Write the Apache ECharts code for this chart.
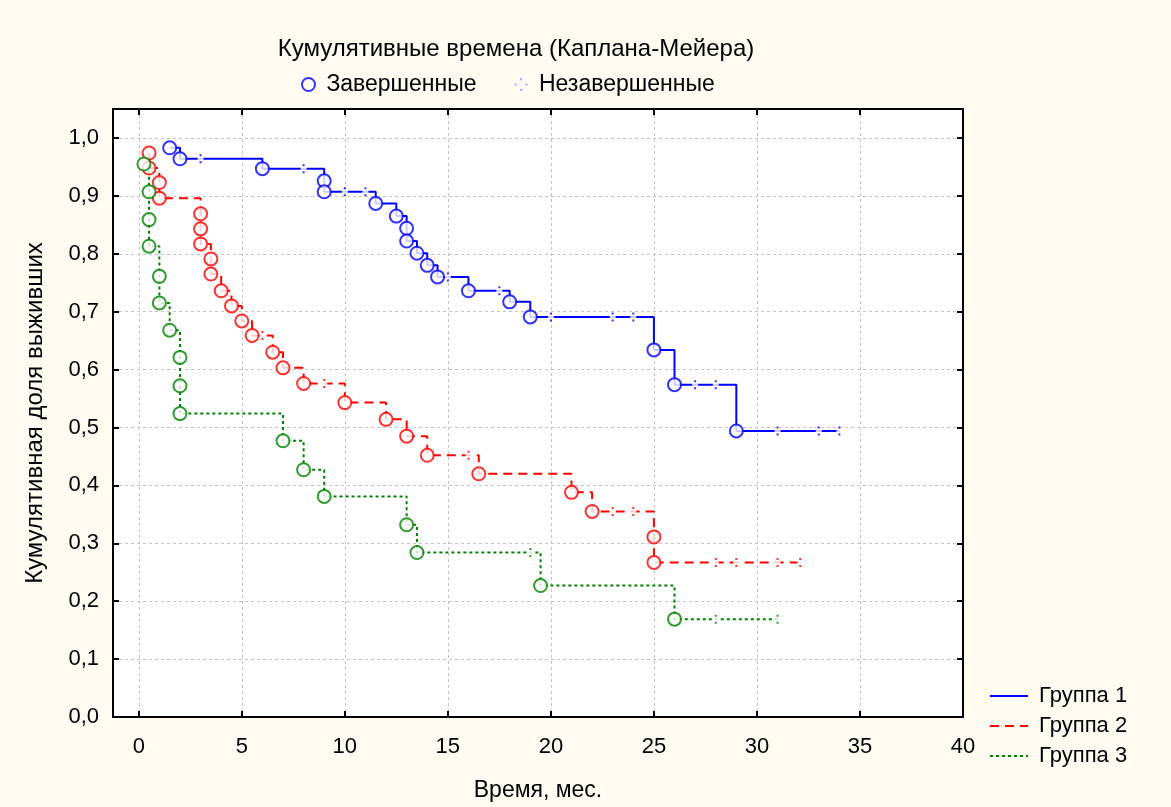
<!DOCTYPE html>
<html><head><meta charset="utf-8">
<script src="https://cdn.jsdelivr.net/npm/echarts@6/dist/echarts.min.js"></script>
<style>html,body{margin:0;padding:0;background:#fffbf0}#c{width:1171px;height:807px}</style>
</head><body><div id="c"></div>
<script>
const xTicks = [0, 5, 10, 15, 20, 25, 30, 35, 40];
const yTicks = [0, 0.1, 0.2, 0.3, 0.4, 0.5, 0.6, 0.7, 0.8, 0.9, 1.0];

const groupNames = ['Группа 1', 'Группа 2', 'Группа 3'];

// [time, cumulative survival] — complete (event) observations
const g1Events = [[1.5,0.983],[2.0,0.964],[6.0,0.947],[9.0,0.926],[9.0,0.907],[11.5,0.887],[12.5,0.865],[13.0,0.844],[13.0,0.822],[13.5,0.801],[14.0,0.780],[14.5,0.760],[16.0,0.736],[18.0,0.717],[19.0,0.691],[25.0,0.634],[26.0,0.574],[29.0,0.494]];
const g2Events = [[0.5,0.974],[0.5,0.948],[1.0,0.923],[1.0,0.896],[3.0,0.869],[3.0,0.843],[3.0,0.817],[3.5,0.791],[3.5,0.765],[4.0,0.736],[4.5,0.710],[5.0,0.684],[5.5,0.659],[6.5,0.630],[7.0,0.603],[8.0,0.576],[10.0,0.543],[12.0,0.514],[13.0,0.485],[14.0,0.452],[16.5,0.420],[21.0,0.388],[22.0,0.355],[25.0,0.311],[25.0,0.267]];
const g3Events = [[0.25,0.955],[0.5,0.907],[0.5,0.859],[0.5,0.813],[1.0,0.761],[1.0,0.715],[1.5,0.668],[2.0,0.621],[2.0,0.572],[2.0,0.524],[7.0,0.477],[8.0,0.427],[9.0,0.381],[13.0,0.332],[13.5,0.284],[19.5,0.227],[26.0,0.169]];

// [time, cumulative survival] — censored (incomplete) observations
const g1Censored = [[3.0,0.964],[8.0,0.947],[10.0,0.907],[11.0,0.907],[15.0,0.760],[17.5,0.736],[20.0,0.691],[23.0,0.691],[24.0,0.691],[27.0,0.574],[28.0,0.574],[31.0,0.494],[33.0,0.494],[34.0,0.494]];
const g2Censored = [[6.0,0.659],[9.0,0.576],[16.0,0.452],[23.0,0.355],[24.0,0.355],[28.0,0.267],[29.0,0.267],[31.0,0.267],[32.1,0.267]];
const g3Censored = [[19.0,0.284],[28.0,0.169],[31.0,0.169]];

const events = [g1Events, g2Events, g3Events];
const censored = [g1Censored, g2Censored, g3Censored];
const colors = ['#0000ff', '#ff0000', '#008000'];
const dashTypes = ['solid', [9, 6], [3, 3]];
const FONT = 'Liberation Sans';

const censorPath = 'path://M0,0h2v2h-2zM0,7h2v2h-2z';
const censorLegendPath = 'path://M5,0h2v2h-2zM0,5h2v2h-2zM10,5h2v2h-2zM5,10h2v2h-2z';

function merged(ev, ce) {
  return ev.concat(ce).slice().sort((a, b) => a[0] - b[0]);
}

const series = [];
for (let g = 0; g < 3; g++) {
  series.push({
    name: groupNames[g], type: 'line', step: 'end', symbol: 'none',
    data: merged(events[g], censored[g]),
    lineStyle: { color: colors[g], width: 2, type: dashTypes[g] },
    itemStyle: { color: colors[g] }, z: 2, animation: false
  });
  series.push({
    name: 'gap' + g, type: 'scatter', symbol: 'rect', symbolSize: [6, 4],
    data: censored[g], itemStyle: { color: '#ffffff' }, z: 3, silent: true, animation: false
  });
  series.push({
    name: 'Незавершенные', type: 'scatter', symbol: censorPath, symbolSize: [2, 9],
    data: censored[g], itemStyle: { color: colors[g] }, z: 4, animation: false
  });
  series.push({
    name: 'Завершенные', type: 'scatter', symbol: 'circle', symbolSize: 13,
    data: events[g], itemStyle: { color: '#ffffff', borderColor: colors[g], borderWidth: 2 },
    z: 5, animation: false
  });
}

const tickFmt = v => v.toFixed(1).replace('.', ',');
const axisLine = { show: true, onZero: false, lineStyle: { color: '#000', width: 2 } };
const tickStyle = { color: '#000', width: 2 };
const splitStyle = { color: '#c4c4c4', width: 1, type: [3, 3] };
const hiddenSymbol = { color: 'rgba(0,0,0,0)', borderColor: 'rgba(0,0,0,0)', borderWidth: 0, opacity: 0 };

const option = {
  backgroundColor: '#fffbf0',
  animation: false,
  title: {
    text: 'Кумулятивные времена (Каплана-Мейера)',
    left: 511, top: 32, textAlign: 'center',
    textStyle: { fontFamily: FONT, fontSize: 24, fontWeight: 'normal', color: '#000' }
  },
  legend: [
    {
      left: 296, top: 68, itemGap: 38, itemWidth: 13, itemHeight: 13,
      textStyle: { fontFamily: FONT, fontSize: 23, color: '#000' },
      formatter: n => ' ' + n,
      data: [
        { name: 'Завершенные', icon: 'circle', itemStyle: { color: '#fff', borderColor: '#0000ff', borderWidth: 2 } },
        { name: 'Незавершенные', icon: censorLegendPath, itemStyle: { color: '#9a9aff', borderWidth: 0 } }
      ]
    },
    {
      orient: 'vertical', left: 984, top: 680, itemGap: 8, itemWidth: 38, itemHeight: 19,
      textStyle: { fontFamily: FONT, fontSize: 22, color: '#000' },
      formatter: n => ' ' + n,
      data: groupNames.map(n => ({ name: n, itemStyle: hiddenSymbol }))
    }
  ],
  grid: {
    left: 113, right: 208, top: 109, bottom: 90,
    show: true, backgroundColor: '#ffffff', borderColor: '#000', borderWidth: 2
  },
  xAxis: [
    {
      type: 'value', min: -1.25, max: 40, position: 'bottom',
      axisLine: axisLine,
      axisTick: { show: true, inside: true, length: 6, customValues: xTicks, lineStyle: tickStyle },
      axisLabel: { customValues: xTicks, margin: 19, fontFamily: FONT, fontSize: 22, color: '#000' },
      splitLine: { show: true, lineStyle: splitStyle },
      name: 'Время, мес.', nameLocation: 'middle', nameGap: 62,
      nameTextStyle: { fontFamily: FONT, fontSize: 23, color: '#000' }
    },
    {
      type: 'value', min: -1.25, max: 40, position: 'top',
      axisLine: axisLine,
      axisTick: { show: true, inside: true, length: 6, customValues: xTicks, lineStyle: tickStyle },
      axisLabel: { show: false }, splitLine: { show: false }
    }
  ],
  yAxis: [
    {
      type: 'value', min: 0, max: 1.05, position: 'left',
      axisLine: axisLine,
      axisTick: { show: true, inside: true, length: 6, customValues: yTicks, lineStyle: tickStyle },
      axisLabel: { customValues: yTicks, margin: 14, formatter: tickFmt, fontFamily: FONT, fontSize: 22, color: '#000' },
      splitLine: { show: true, lineStyle: splitStyle },
      name: 'Кумулятивная доля выживших', nameLocation: 'middle', nameGap: 66, nameRotate: 90,
      nameTextStyle: { fontFamily: FONT, fontSize: 24, color: '#000' }
    },
    {
      type: 'value', min: 0, max: 1.05, position: 'right',
      axisLine: axisLine,
      axisTick: { show: true, inside: true, length: 6, customValues: yTicks, lineStyle: tickStyle },
      axisLabel: { show: false }, splitLine: { show: false }
    }
  ],
  series: series
};

const chart = echarts.init(document.getElementById('c'), null, { renderer: 'canvas' });
chart.setOption(option);
</script>
</body></html>
